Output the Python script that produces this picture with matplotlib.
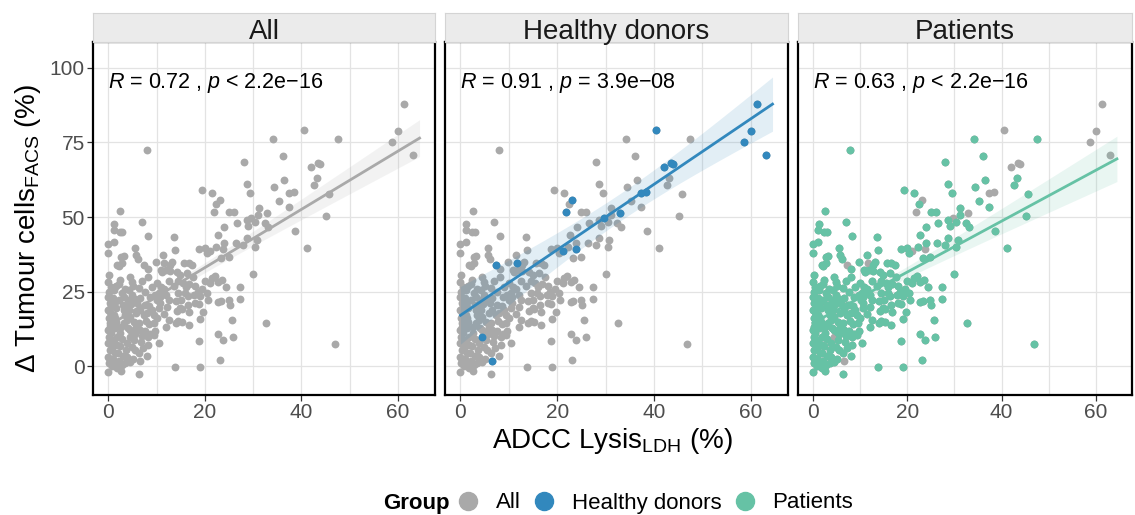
import numpy as np
import matplotlib
matplotlib.use('Agg')
import matplotlib.pyplot as plt
from matplotlib.lines import Line2D

plt.rcParams['font.family'] = 'Liberation Sans'
plt.rcParams['mathtext.fontset'] = 'custom'
plt.rcParams['mathtext.rm'] = 'Liberation Sans'
plt.rcParams['mathtext.it'] = 'Liberation Sans:italic'

# ADCC lysis (LDH, %) vs delta tumour cells (FACS, %)
patient_x = [
    0.0, 0.2, 0.0, 0.3, 0.0, 0.2, 0.0, 0.4, 0.1, 0.0, 0.3, 0.0, 0.2, 0.0, 0.1, 0.4, 0.5, 0.6, 0.0, 0.0, 0.4, 0.5, 0.3,
    1.1, 1.2, 1.1, 1.1, 1.4, 1.4, 1.8, 1.1, 1.8, 0.8, 1.4, 1.8, 1.8, 1.2, 1.5, 1.0, 1.6, 1.3, 1.6, 0.9,
    2.8, 2.1, 2.7, 3.2, 2.5, 2.3, 2.9, 2.8, 3.2, 2.1, 3.2, 3.5, 3.9, 3.2, 2.8, 3.5, 2.5, 2.2, 3.0, 2.4, 2.6, 3.4, 2.0, 3.0, 2.2,
    4.5, 4.9, 4.2, 4.5, 4.5, 3.9, 4.9, 4.5, 4.0, 4.8, 3.8, 4.6, 4.2, 5.0,
    5.6, 5.7, 6.1, 5.2, 6.3, 5.2, 6.3, 6.3, 6.3, 6.6, 6.6, 7.0, 5.5, 6.0, 6.5, 5.8, 5.6, 6.8, 5.5, 5.0,
    8.1, 8.1, 7.6, 8.7, 7.3, 8.0, 7.6, 8.7, 8.3, 8.3, 8.2, 7.9, 7.5, 8.5, 9.0, 7.8, 8.5, 7.2, 8.0, 9.0, 7.0,
    9.7, 10.1, 10.7, 10.7, 9.4, 9.4, 10.4, 9.7, 9.8, 10.9, 10.4, 10.0, 10.5, 9.5, 10.8, 10.0,
    11.9, 11.4, 12.8, 12.1, 12.8, 11.1, 12.5, 11.5, 12.0, 12.5, 11.5, 12.0, 12.5,
    13.5, 13.8, 13.8, 14.2, 14.9, 14.0, 14.5, 14.2, 14.5, 14.0, 14.9, 13.5, 14.5, 15.2, 13.2,
    15.6, 16.6, 16.3, 15.9, 16.4, 15.2, 16.6, 15.5, 16.0, 16.8, 15.0, 16.5, 16.7,
    17.3, 18.0, 18.7, 18.7, 19.0, 19.0, 18.7, 19.4, 17.5, 18.0, 18.5, 17.8, 19.0,
    19.7, 20.6, 20.0, 20.4, 20.4, 19.5, 20.0,
    22.3, 21.5, 22.4, 22.1, 22.8, 21.4, 21.1, 22.8, 23.1, 22.8, 22.7,
    24.9, 23.3, 23.8, 24.4, 24.9, 25.1, 23.3, 23.5, 25.0, 23.9, 24.0,
    26.0, 26.6, 26.4, 25.9, 25.6, 27.3, 27.3, 28.0, 28.1,
    28.7, 29.4, 28.7, 30.4, 29.0, 28.7, 30.7, 30.4, 30.0, 31.2, 31.1,
    32.4, 33.1, 32.6, 34.2, 34.4,
    35.3, 36.1, 36.4, 37.4, 38.6,
    41.1, 43.2, 42.7, 45.7, 45.2, 47.5, 46.9,
    0.8, 1.5, 2.6, 3.8, 5.0, 0.6, 2.4, 3.6, 4.0, 5.8, 7.0, 2.9,
]
patient_y = [
    -1.9, 0.9, 3.1, 5.4, 7.6, 9.8, 12.1, 14.3, 16.0, 18.8, 21.0, 23.2, 24.9, 28.3, 30.5, 18.2, 26.5, 20.0, 41.0, 38.0, 2.0, 11.0, 13.2,
    41.7, 47.7, 45.6, 17.1, 16.0, 21.6, 9.8, 8.7, 7.0, 5.9, 4.3, -0.8, 33.9, 25.5, 27.0, 22.8, 19.5, 12.8, 14.8, 2.5,
    34.5, 33.6, 36.5, 37.0, 52.0, 44.9, 45.0, 24.4, 23.3, 22.1, 18.8, 17.1, 15.4, 14.3, 0.3, 0.9, 11.0, 27.5, 20.5, 29.0, 13.0, 26.0, 4.5, 3.5, 1.8,
    30.0, 28.3, 18.8, 16.5, 12.1, 7.6, 6.5, 1.4, 22.0, 24.0, 20.0, 20.8, 25.5, 11.5,
    39.5, 37.2, 35.8, 14.9, 14.3, 8.7, 4.3, -2.7, 26.1, 18.8, 12.1, 48.4, 22.5, 21.0, 23.0, 17.8, 10.8, 8.0, 5.5, 27.0,
    32.4, 30.0, 24.9, 23.3, 17.1, 17.7, 11.6, 10.9, 9.8, 7.0, 43.6, 72.4, 20.5, 20.0, 18.8, 15.0, 14.0, 6.0, 3.5, 26.5, 28.5,
    23.8, 22.1, 23.3, 21.0, 17.1, 10.4, 7.6, 11.6, 35.0, 32.3, 24.5, 28.0, 19.5, 14.5, 26.5, 16.0,
    32.3, 37.2, 33.9, 19.9, 31.8, 31.6, 28.5, 26.0, 24.0, 22.0, 17.5, 13.0, 15.5,
    43.2, 38.9, -0.2, 31.6, 30.5, 21.9, 24.4, 18.6, 15.0, 14.4, 19.4, 27.0, 28.5, 14.9, 35.0,
    34.7, 34.7, 31.1, 24.4, 23.5, 19.1, 13.9, 28.0, 26.5, 27.5, 22.0, 20.5, 18.2,
    33.9, 21.1, 20.8, 8.5, 15.9, -0.3, 39.2, 59.1, 30.0, 27.0, 25.0, 24.0, 23.5,
    18.1, 22.1, 39.5, 38.0, 24.4, 26.0, 28.5,
    40.0, 57.9, 54.5, 30.2, 28.3, 29.4, 27.7, 21.6, 2.2, 10.7, 44.0,
    36.7, 36.2, 8.7, 26.6, 22.1, 20.5, 21.9, 28.9, 51.8, 41.2, 46.8,
    51.8, 47.9, 41.2, 9.6, 15.4, 26.6, 22.4, 40.6, 68.4,
    61.2, 57.9, 49.0, 48.4, 47.0, 42.8, 42.3, 40.0, 30.9, 52.9, 50.7,
    47.9, 46.7, 14.4, 76.3, 60.2,
    55.5, 70.5, 62.4, 53.5, 45.2,
    39.6, 63.0, 60.7, 57.7, 50.3, 76.3, 7.3,
    0.0, 1.2, -1.5, 3.2, 2.3, 8.2, 6.8, 5.5, 12.8, 13.2, 10.0, 9.0,
]
healthy_x = [4.4, 6.5, 7.3, 11.6, 21.1, 23.8, 21.8, 23.1, 29.6, 32.9,
             37.4, 38.4, 40.5, 42.0, 43.5, 43.9, 58.7, 60.1, 61.3, 63.1]
healthy_y = [9.8, 1.6, 33.9, 34.5, 38.6, 39.3, 51.8, 55.7, 49.6, 51.4,
             58.2, 58.3, 79.2, 66.9, 68.2, 67.8, 75.3, 79.0, 87.8, 70.7]

groups = ['All', 'Healthy donors', 'Patients']
colors = ['#A9A9A9', '#3288BD', '#66C2A5']
r_labels = ['0.72', '0.91', '0.63']
p_labels = ['< 2.2e\u221216', '= 3.9e\u221208', '< 2.2e\u221216']

all_x = np.array(patient_x + healthy_x)
all_y = np.array(patient_y + healthy_y)
group_xy = [
    (all_x, all_y),
    (np.array(healthy_x), np.array(healthy_y)),
    (np.array(patient_x), np.array(patient_y)),
]


def t_quantile(df, z=1.959964):
    # Cornish-Fisher expansion of the 97.5% Student t quantile
    return z + (z**3 + z) / (4 * df) + (5 * z**5 + 16 * z**3 + 3 * z) / (96 * df**2)


def fit_band(x, y, xs):
    n = len(x)
    slope, icpt = np.polyfit(x, y, 1)
    fit = icpt + slope * xs
    resid = y - (icpt + slope * x)
    s = np.sqrt(np.sum(resid**2) / (n - 2))
    sxx = np.sum((x - x.mean())**2)
    se = s * np.sqrt(1.0 / n + (xs - x.mean())**2 / sxx)
    t = t_quantile(n - 2)
    return fit, fit - t * se, fit + t * se


W, H = 1135, 515
fig = plt.figure(figsize=(W / 100, H / 100), dpi=100)

lefts = [93, 445, 798]
rights = [435, 788, 1132]
top, bottom, strip_top = 42, 395, 13
# smoothers span the full x range of the shared scale
xs = np.linspace(0, 64.5, 200)

for i, name in enumerate(groups):
    l, r = lefts[i], rights[i]
    ax = fig.add_axes([l / W, 1 - bottom / H, (r - l) / W, (bottom - top) / H])
    ax.set_xlim(-3.2, 67.7)
    ax.set_ylim(-9.7, 108.7)
    ax.set_axisbelow(True)
    for gx in range(0, 70, 10):
        ax.axvline(gx, color='#E3E3E3', lw=0.9, zorder=0)
    for gy in range(0, 125, 25):
        ax.axhline(gy, color='#E3E3E3', lw=0.9, zorder=0)
    ax.set_xticks([0, 20, 40, 60])
    ax.set_yticks([0, 25, 50, 75, 100])
    ax.tick_params(axis='both', colors='#333333', labelcolor='#4D4D4D',
                   labelsize=15, length=4, width=0.9, pad=2)
    if i > 0:
        ax.tick_params(axis='y', left=False, labelleft=False)
    for sp in ax.spines.values():
        sp.set_color('black')
        sp.set_linewidth(1.6)

    # every sample in grey, the panel's group on top
    ax.scatter(all_x, all_y, s=32, color=colors[0], linewidths=0, zorder=2)
    gx_, gy_ = group_xy[i]
    if i > 0:
        ax.scatter(gx_, gy_, s=32, color=colors[i], linewidths=0, zorder=3)

    fit, lo, hi = fit_band(gx_, gy_, xs)
    ax.fill_between(xs, lo, hi, color=colors[i], alpha=0.14, linewidth=0, zorder=4)
    ax.plot(xs, fit, color=colors[i], lw=2.0, zorder=5)

    ax.text(0, 95, r'$\it{R}$ = ' + r_labels[i] + r' , $\it{p}$ ' + p_labels[i],
            fontsize=15.5, ha='left', va='center', zorder=6)

    strip = fig.add_axes([l / W, 1 - top / H, (r - l) / W, (top - strip_top) / H])
    strip.set_facecolor('#EBEBEB')
    strip.set_xticks([])
    strip.set_yticks([])
    for sp in strip.spines.values():
        sp.set_color('#D4D4D4')
        sp.set_linewidth(0.8)
    strip.text(0.5, 0.36, name, fontsize=20, ha='center', va='center',
               transform=strip.transAxes, color='#1A1A1A')

fig.text(28 / W, 1 - 228 / H, r'$\Delta$ Tumour cells$_{\mathrm{FACS}}$ (%)',
         rotation=90, ha='center', va='center', fontsize=20)
fig.text(612 / W, 1 - 441 / H, r'ADCC Lysis$_{\mathrm{LDH}}$ (%)',
         ha='center', va='center', fontsize=20)

fig.text(383 / W, 1 - 503 / H, 'Group', fontsize=16, fontweight='bold',
         ha='left', va='center')
handles = [Line2D([], [], marker='o', linestyle='', color=c, markersize=13) for c in colors]
fig.legend(handles, groups, loc='center left', bbox_to_anchor=(457 / W, 1 - 503 / H),
           ncol=3, frameon=False, fontsize=16, handlelength=1.0, handletextpad=0.75,
           columnspacing=0.55, borderpad=0, borderaxespad=0)

fig.savefig('out.png', dpi=100)
